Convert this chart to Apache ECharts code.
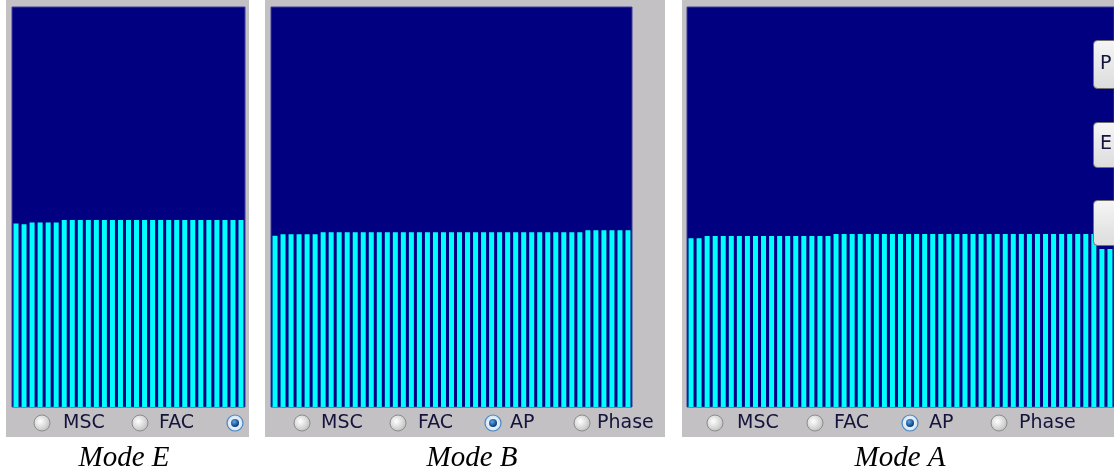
<!DOCTYPE html>
<html>
<head>
<meta charset="utf-8">
<script src="https://cdn.jsdelivr.net/npm/echarts@6/dist/echarts.min.js"></script>
<style>
  html, body { margin: 0; padding: 0; background: #ffffff; }
  #chart { width: 1114px; height: 474px; }
</style>
</head>
<body>
<div id="chart"></div>
<script>
// Spectrum bin levels (percent of full scale) for each mode
const modeE = [45.9, 45.7, 46.1, 46.1, 46.1, 46.1,
  46.75, 46.75, 46.75, 46.75, 46.75, 46.75, 46.75, 46.75, 46.75, 46.75,
  46.75, 46.75, 46.75, 46.75, 46.75, 46.75, 46.75, 46.75, 46.75, 46.75,
  46.75, 46.75, 46.75];
const modeB = [42.8, 43.2, 43.2, 43.2, 43.2, 43.2,
  43.7, 43.7, 43.7, 43.7, 43.7, 43.7, 43.7, 43.7, 43.7, 43.7, 43.7,
  43.7, 43.7, 43.7, 43.7, 43.7, 43.7, 43.7, 43.7, 43.7, 43.7, 43.7,
  43.7, 43.7, 43.7, 43.7, 43.7, 43.7, 43.7, 43.7, 43.7, 43.7, 43.7,
  44.2, 44.2, 44.2, 44.2, 44.2, 44.2];
const modeA = [42.2, 42.2,
  42.75, 42.75, 42.75, 42.75, 42.75, 42.75, 42.75, 42.75, 42.75, 42.75,
  42.75, 42.75, 42.75, 42.75, 42.75, 42.75,
  43.25, 43.25, 43.25, 43.25, 43.25, 43.25, 43.25, 43.25, 43.25, 43.25,
  43.25, 43.25, 43.25, 43.25, 43.25, 43.25, 43.25, 43.25, 43.25, 43.25,
  43.25, 43.25, 43.25, 43.25, 43.25, 43.25, 43.25, 43.25, 43.25, 43.25,
  43.25, 43.25, 43.25,
  39.5, 39.5];

const radioLabels = ['MSC', 'FAC', 'AP', 'Phase'];
const captions = ['Mode E', 'Mode B', 'Mode A'];
const selectedOption = 'AP';
const buttonLabels = ['P', 'E', ''];

const NAVY = '#000080';
const CYAN = '#00FFFF';
const PANEL_GRAY = '#c3c1c3';

// Panel layout: outer gray frame, inner plot area, radio row, caption
const panels = [
  { data: modeE, frame: [6, 0, 243, 437], grid: [12, 7, 233, 400],
    radios: [42, 140, 235, null], texts: [63, 159, null, null], caption: 124 },
  { data: modeB, frame: [265, 0, 400, 437], grid: [271, 7, 361, 400],
    radios: [302, 398, 493, 582], texts: [321, 418, 510, 597], caption: 472 },
  { data: modeA, frame: [682, 0, 440, 437], grid: [687, 7, 427, 400],
    radios: [715, 815, 910, 999], texts: [737, 834, 929, 1019], caption: 900 }
];

const grids = [], xAxes = [], yAxes = [], series = [], graphics = [];

panels.forEach((p, i) => {
  graphics.push({
    type: 'rect', z: -10,
    shape: { x: p.frame[0], y: p.frame[1], width: p.frame[2], height: p.frame[3] },
    style: { fill: PANEL_GRAY }
  });
  grids.push({
    left: p.grid[0], top: p.grid[1], width: p.grid[2], height: p.grid[3],
    show: true, backgroundColor: NAVY, borderColor: '#3c3ca0', borderWidth: 1
  });
  xAxes.push({
    type: 'category', gridIndex: i, data: p.data.map((_, k) => k + 1),
    show: false, boundaryGap: true
  });
  yAxes.push({ type: 'value', gridIndex: i, min: 0, max: 100, show: false });
  series.push({
    type: 'bar', xAxisIndex: i, yAxisIndex: i, data: p.data,
    barWidth: 5, itemStyle: { color: CYAN }, silent: true, animation: false
  });

  // radio button row
  radioLabels.forEach((label, r) => {
    const cx = p.radios[r];
    if (cx === null) return;
    const sel = label === selectedOption;
    graphics.push({
      type: 'circle', shape: { cx: cx, cy: 423, r: 8 },
      style: sel ? {
        fill: new echarts.graphic.RadialGradient(0.5, 0.5, 0.5, [
          { offset: 0, color: '#ffffff' }, { offset: 1, color: '#cfe2f4' }]),
        stroke: '#4a86c0', lineWidth: 1.2
      } : {
        fill: new echarts.graphic.RadialGradient(0.4, 0.4, 0.6, [
          { offset: 0, color: '#ffffff' }, { offset: 1, color: '#c2c2c2' }]),
        stroke: '#8c8c8c', lineWidth: 1
      }
    });
    if (sel) {
      graphics.push({
        type: 'circle', shape: { cx: cx, cy: 423, r: 4 },
        style: {
          fill: new echarts.graphic.RadialGradient(0.4, 0.35, 0.6, [
            { offset: 0, color: '#5fa8e8' }, { offset: 1, color: '#0b3f7e' }])
        }
      });
    }
    if (p.texts[r] !== null) {
      graphics.push({
        type: 'text', x: p.texts[r], y: 423,
        style: {
          text: label, fill: '#14143c',
          font: '19px "DejaVu Sans", sans-serif',
          textAlign: 'left', textVerticalAlign: 'middle'
        }
      });
    }
  });

  graphics.push({
    type: 'text', x: p.caption, y: 458,
    style: {
      text: captions[i], fill: '#000000',
      font: 'italic 29px "Liberation Serif", serif',
      textAlign: 'center', textVerticalAlign: 'middle'
    }
  });
});

// side buttons on the right edge of the last panel
[[40, 48], [122, 45], [200, 45]].forEach((b, k) => {
  graphics.push({
    type: 'rect', z: 10,
    shape: { x: 1093.5, y: b[0] + 0.5, width: 40, height: b[1], r: 4 },
    style: {
      fill: new echarts.graphic.LinearGradient(0, 0, 0, 1, [
        { offset: 0, color: '#f6f6f6' }, { offset: 1, color: '#dcdcdc' }]),
      stroke: '#707070', lineWidth: 1
    }
  });
  if (buttonLabels[k]) {
    graphics.push({
      type: 'text', z: 11, x: 1100, y: b[0] + b[1] / 2,
      style: {
        text: buttonLabels[k], fill: '#14143c',
        font: '19px "DejaVu Sans", sans-serif',
        textAlign: 'left', textVerticalAlign: 'middle'
      }
    });
  }
});

const chart = echarts.init(document.getElementById('chart'), null, { renderer: 'canvas' });
chart.setOption({
  animation: false,
  backgroundColor: '#ffffff',
  grid: grids,
  xAxis: xAxes,
  yAxis: yAxes,
  series: series,
  graphic: graphics
});
</script>
</body>
</html>
